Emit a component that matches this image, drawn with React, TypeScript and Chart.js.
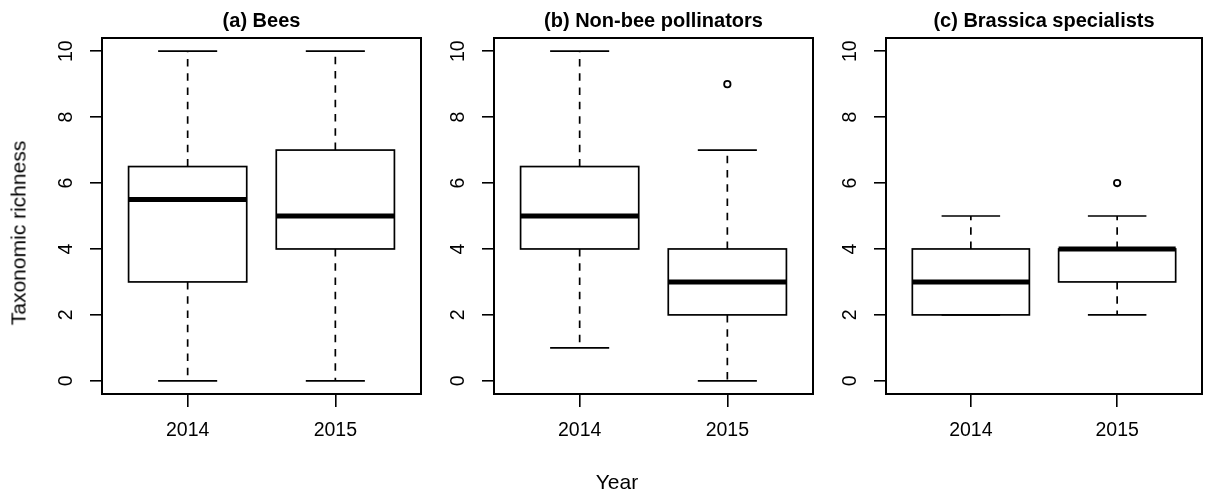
import React, { useEffect, useRef } from "react";
import { Chart, registerables } from "chart.js";

Chart.register(...registerables);

// ---------- data ----------
const years = ["2014", "2015"];
const yTickValues = [0, 2, 4, 6, 8, 10];
const panelTitles = ["(a) Bees", "(b) Non-bee pollinators", "(c) Brassica specialists"];
const xAxisTitle = "Year";
const yAxisTitle = "Taxonomic richness";

// (a) Bees
const beesLow = [0, 0];
const beesQ1 = [3, 4];
const beesMedian = [5.5, 5];
const beesQ3 = [6.5, 7];
const beesHigh = [10, 10];
const beesOutliers: number[][] = [[], []];

// (b) Non-bee pollinators
const nonBeeLow = [1, 0];
const nonBeeQ1 = [4, 2];
const nonBeeMedian = [5, 3];
const nonBeeQ3 = [6.5, 4];
const nonBeeHigh = [10, 7];
const nonBeeOutliers: number[][] = [[], [9]];

// (c) Brassica specialists
const brassicaLow = [2, 2];
const brassicaQ1 = [2, 3];
const brassicaMedian = [3, 4];
const brassicaQ3 = [4, 4];
const brassicaHigh = [5, 5];
const brassicaOutliers: number[][] = [[], [6]];

// ---------- styling ----------
const FONT = "'Liberation Sans', Arial, Helvetica, sans-serif";
const H = 491;
const BOX_HALF = 0.4;
const CAP_HALF = 0.2;

type Stats = {
  low: number[];
  q1: number[];
  med: number[];
  q3: number[];
  high: number[];
  outliers: number[][];
};

function makeBoxPlugin(s: Stats) {
  return {
    id: "rBoxplot",
    afterDatasetsDraw(chart: any) {
      const { ctx, chartArea, scales } = chart;
      const x = scales.x;
      const y = scales.y;
      ctx.save();
      ctx.strokeStyle = "#000";
      ctx.lineCap = "butt";
      for (let i = 0; i < s.med.length; i++) {
        const pos = i + 1;
        const xc = x.getPixelForValue(pos);
        const xl = x.getPixelForValue(pos - BOX_HALF);
        const xr = x.getPixelForValue(pos + BOX_HALF);
        const cl = x.getPixelForValue(pos - CAP_HALF);
        const cr = x.getPixelForValue(pos + CAP_HALF);
        const yLow = y.getPixelForValue(s.low[i]);
        const yQ1 = y.getPixelForValue(s.q1[i]);
        const yMed = y.getPixelForValue(s.med[i]);
        const yQ3 = y.getPixelForValue(s.q3[i]);
        const yHigh = y.getPixelForValue(s.high[i]);

        // whiskers (dashed)
        ctx.lineWidth = 1.7;
        ctx.setLineDash([7.5, 6.8]);
        ctx.beginPath();
        if (s.high[i] > s.q3[i]) {
          ctx.moveTo(xc, yQ3);
          ctx.lineTo(xc, yHigh);
        }
        if (s.low[i] < s.q1[i]) {
          ctx.moveTo(xc, yQ1);
          ctx.lineTo(xc, yLow);
        }
        ctx.stroke();
        ctx.setLineDash([]);

        // staples
        ctx.beginPath();
        ctx.moveTo(cl, yHigh);
        ctx.lineTo(cr, yHigh);
        ctx.moveTo(cl, yLow);
        ctx.lineTo(cr, yLow);
        ctx.stroke();

        // box
        ctx.lineWidth = 1.7;
        ctx.strokeRect(xl, yQ3, xr - xl, yQ1 - yQ3);

        // median
        ctx.lineWidth = 5;
        ctx.beginPath();
        ctx.moveTo(xl, yMed);
        ctx.lineTo(xr, yMed);
        ctx.stroke();
      }
      // plot frame
      ctx.lineWidth = 2;
      ctx.strokeRect(
        chartArea.left,
        chartArea.top,
        chartArea.right - chartArea.left,
        chartArea.bottom - chartArea.top
      );
      ctx.restore();
    },
  };
}

type PanelProps = {
  left: number;
  width: number;
  yAxisWidth: number;
  rightPad: number;
  title: string;
  stats: Stats;
};

function Panel({ left, width, yAxisWidth, rightPad, title, stats }: PanelProps) {
  const ref = useRef<HTMLCanvasElement>(null);

  useEffect(() => {
    const points: { x: number; y: number }[] = [];
    stats.outliers.forEach((arr, i) => arr.forEach((v) => points.push({ x: i + 1, y: v })));

    const chart = new Chart(ref.current as HTMLCanvasElement, {
      type: "scatter",
      data: {
        datasets: [
          {
            data: points,
            pointRadius: 3.2,
            pointHoverRadius: 3.2,
            pointBorderWidth: 1.8,
            pointBorderColor: "#000",
            pointBackgroundColor: "rgba(255,255,255,0)",
            showLine: false,
          } as any,
        ],
      },
      options: {
        animation: false,
        responsive: false,
        maintainAspectRatio: false,
        events: [],
        layout: { padding: { left: 0, right: rightPad, top: 0, bottom: 0 } },
        plugins: {
          legend: { display: false },
          tooltip: { enabled: false },
          title: {
            display: true,
            text: title,
            color: "#000",
            fullSize: false,
            font: { family: FONT, size: 20, weight: "bold", lineHeight: 1.2 },
            padding: { top: 9, bottom: 5 },
          },
        },
        scales: {
          x: {
            type: "linear",
            position: "bottom",
            min: 0.42,
            max: 2.58,
            afterBuildTicks: (s: any) => {
              s.ticks = years.map((_, i) => ({ value: i + 1 }));
            },
            afterFit: (s: any) => {
              s.height = 97;
            },
            ticks: {
              autoSkip: false,
              minRotation: 0,
              maxRotation: 0,
              padding: 12,
              color: "#000",
              font: { family: FONT, size: 19.5, lineHeight: 1.2 },
              callback: (_v: any, index: number) => years[index],
            },
            grid: {
              drawOnChartArea: false,
              drawTicks: true,
              tickLength: 13,
              color: "#000",
              lineWidth: 1.6,
            },
            border: { display: false },
          },
          y: {
            type: "linear",
            position: "left",
            min: -0.4,
            max: 10.4,
            afterBuildTicks: (s: any) => {
              s.ticks = yTickValues.map((v) => ({ value: v }));
            },
            afterFit: (s: any) => {
              s.width = yAxisWidth;
            },
            ticks: {
              autoSkip: false,
              minRotation: 90,
              maxRotation: 90,
              crossAlign: "center",
              padding: 12.5,
              color: "#000",
              font: { family: FONT, size: 19.5, lineHeight: 1.2 },
              callback: (_v: any, index: number) => String(yTickValues[index]),
            },
            grid: {
              drawOnChartArea: false,
              drawTicks: true,
              tickLength: 12,
              color: "#000",
              lineWidth: 1.6,
            },
            border: { display: false },
          },
        },
      } as any,
      plugins: [makeBoxPlugin(stats)],
    });
    return () => chart.destroy();
  }, []);

  return (
    <canvas
      ref={ref}
      width={width}
      height={H}
      style={{ position: "absolute", left, top: 0, width, height: H }}
    />
  );
}

export default function App() {
  const beesStats: Stats = {
    low: beesLow, q1: beesQ1, med: beesMedian, q3: beesQ3, high: beesHigh, outliers: beesOutliers,
  };
  const nonBeeStats: Stats = {
    low: nonBeeLow, q1: nonBeeQ1, med: nonBeeMedian, q3: nonBeeQ3, high: nonBeeHigh, outliers: nonBeeOutliers,
  };
  const brassicaStats: Stats = {
    low: brassicaLow, q1: brassicaQ1, med: brassicaMedian, q3: brassicaQ3, high: brassicaHigh, outliers: brassicaOutliers,
  };

  return (
    <div
      style={{
        position: "absolute",
        left: 0,
        top: 0,
        width: 1207,
        height: H,
        background: "#fff",
        overflow: "hidden",
        fontFamily: FONT,
      }}
    >
      <Panel left={0} width={430} yAxisWidth={102} rightPad={9} title={panelTitles[0]} stats={beesStats} />
      <Panel left={430} width={390} yAxisWidth={64} rightPad={7} title={panelTitles[1]} stats={nonBeeStats} />
      <Panel left={820} width={387} yAxisWidth={66} rightPad={2} title={panelTitles[2]} stats={brassicaStats} />
      <div
        style={{
          position: "absolute",
          left: 17.5,
          top: 232.5,
          transform: "translate(-50%, -50%) rotate(-90deg)",
          fontSize: 21,
          lineHeight: 1,
          whiteSpace: "nowrap",
          color: "#000",
        }}
      >
        {yAxisTitle}
      </div>
      <div
        style={{
          position: "absolute",
          left: 617,
          top: 480.5,
          transform: "translate(-50%, -50%)",
          fontSize: 21,
          lineHeight: 1,
          whiteSpace: "nowrap",
          color: "#000",
        }}
      >
        {xAxisTitle}
      </div>
    </div>
  );
}
